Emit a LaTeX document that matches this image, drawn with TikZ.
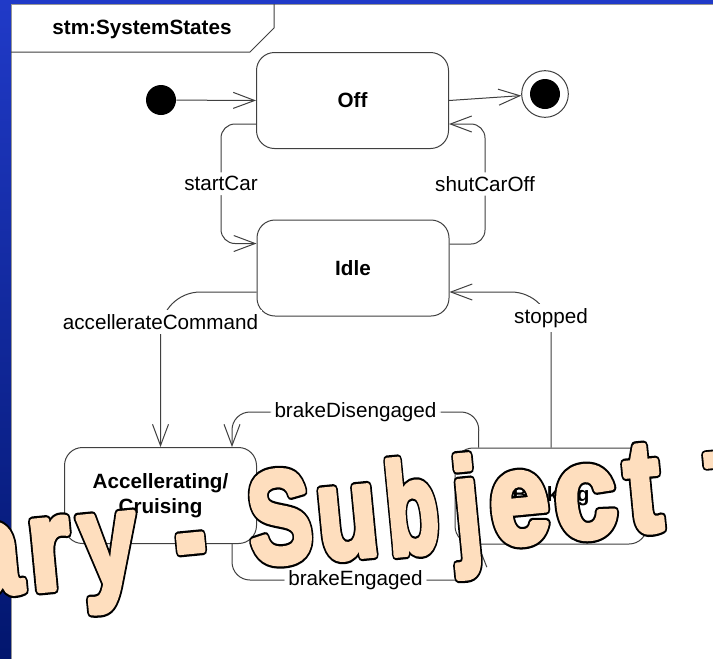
\documentclass[tikz,border=0pt]{standalone}
\usepackage{fontspec}
\setmainfont{Liberation Sans}
\newfontfamily\wmface{Liberation Sans Bold}
\usetikzlibrary{arrows.meta,calc}

\definecolor{slideblueA}{RGB}{32,58,200}
\definecolor{slideblueB}{RGB}{2,22,110}
\definecolor{umlline}{RGB}{64,64,64}
\definecolor{framegray}{RGB}{150,150,150}
\definecolor{wmpeach}{RGB}{254,222,190}

\newcommand{\lblfont}{\fontsize{15.5}{18.75}\selectfont}
\newcommand{\wmfontsel}{\wmface\fontsize{98}{98}\selectfont}
% emboldened glyph rendering: wide black rim, then narrower peach body
\newcommand{\rimon}{\special{pdf:literal direct 0 0 0 RG 2 Tr 7.8 w 1 j}}
\newcommand{\bodyon}{\special{pdf:literal direct 0.996 0.871 0.745 RG 2 Tr 4.4 w 1 j}}
\newcommand{\rendoff}{\special{pdf:literal direct 0 Tr}}

\begin{document}
\begin{tikzpicture}[x=0.75pt,y=-0.75pt,
  plain/.style={draw=umlline, line width=0.75pt},
  conn/.style={plain, -{Straight Barb[length=16pt,width=12pt]}},
  state/.style={draw=umlline, line width=0.75pt, fill=white,
    rounded corners=13.5pt, minimum width=144pt, minimum height=72pt,
    align=center, font=\lblfont\bfseries, inner sep=0pt},
  lbl/.style={fill=white, inner sep=3pt, font=\lblfont, text=black},
  wmrim/.style={font=\wmfontsel, text=black, inner sep=0pt, anchor=base,
    rotate=5.5, execute at begin node=\rimon,
    execute at end node=\rendoff},
  wmbody/.style={font=\wmfontsel, text=wmpeach, inner sep=0pt, anchor=base,
    rotate=5.5, execute at begin node=\bodyon,
    execute at end node=\rendoff},
]
\useasboundingbox (0,0) rectangle (713,658);
\clip (0,0) rectangle (713,658);

% slide background and diagram frame
\shade[top color=slideblueA, bottom color=slideblueB] (0,0) rectangle (713,658);
\draw[draw=framegray, fill=white, line width=0.75pt] (11,4) rectangle (730,680);
\draw[plain] (11,52) -- (250,52) -- (274,28) -- (274,4);
\node[font=\lblfont\bfseries] (title) at (142,29) {stm:SystemStates};

% states
\node[state] (off)  at (352.5,100.5) {Off};
\node[state] (idle) at (353,268) {Idle};
\node[state] (acc)  at (160.5,495.5) {Accellerating/\\Cruising};
\node[state] (brk)  at (551,496) {Braking};

% pseudo states
\node[circle, fill=black, minimum size=22.5pt, inner sep=0pt] (init) at (161,100) {};
\node[circle, draw=umlline, line width=0.75pt, minimum size=35pt, inner sep=0pt] (final) at (545,94) {};
\node[circle, fill=black, minimum size=22.5pt, inner sep=0pt] (finaldot) at (final) {};

% transitions
\draw[conn] (init) -- (off.west);
\draw[conn] (off.east) -- (final);

\coordinate (scA) at ($(off.west)+(0,23.5)$);
\coordinate (scB) at ($(idle.west)+(0,-24.5)$);
\draw[conn, rounded corners=10.5pt] (scA) -- (221,124) -- node[lbl]{startCar} (221,243.5) -- (scB);

\coordinate (soA) at ($(idle.east)+(0,-24)$);
\coordinate (soB) at ($(off.east)+(0,23.5)$);
\draw[conn, rounded corners=10.5pt] (soA) -- (485,244) -- node[lbl]{shutCarOff} (485,124) -- (soB);

\coordinate (acA) at ($(idle.west)+(0,24)$);
\draw[conn, rounded corners=30pt] (acA) -| (acc.north);
\node[lbl] (aclbl) at (160.5,322) {accellerateCommand};

\coordinate (stB) at ($(idle.east)+(0,24)$);
\draw[conn, rounded corners=30pt] (brk.north) |- (stB);
\node[lbl] (stlbl) at (551,318) {stopped};

\coordinate (bdA) at ($(brk.north west)+(24,0)$);
\coordinate (bdB) at ($(acc.north east)+(-25,0)$);
\draw[conn, rounded corners=13.5pt] (bdA) -- (479,412) -- node[lbl]{brakeDisengaged} (232,412) -- (bdB);

\coordinate (beA) at ($(acc.south east)+(-25,0)$);
\coordinate (beB) at ($(brk.south west)+(24,0)$);
\draw[conn, rounded corners=13.5pt] (beA) -- (232,580) -- node[lbl]{brakeEngaged} (479,580) -- (beB);

% watermark lettering: rims first, bodies on top
\def\wmletters{
  -5/594/0.80/1/a, 53/589/0.84/1/r, 112/584/0.79/1/y, 194/577/0.72/1/-,
  284/562/0.73/1/S, 351/557/0.76/1/u, 416/553/0.66/1/b, 471/550/0.76/1/j,
  523/543/0.82/1/e, 589/537/0.86/1/c, 647/531/0.80/1/t, 743/525/0.8/0.82/T}
\foreach \px/\py/\sx/\sy/\ch [count=\i] in \wmletters
  \node[wmrim, xscale=\sx, yscale=\sy] (wmr\i) at (\px,\py) {\ch};
\foreach \px/\py/\sx/\sy/\ch [count=\i] in \wmletters
  \node[wmbody, xscale=\sx, yscale=\sy] (wmb\i) at (\px,\py) {\ch};
\end{tikzpicture}
\end{document}
